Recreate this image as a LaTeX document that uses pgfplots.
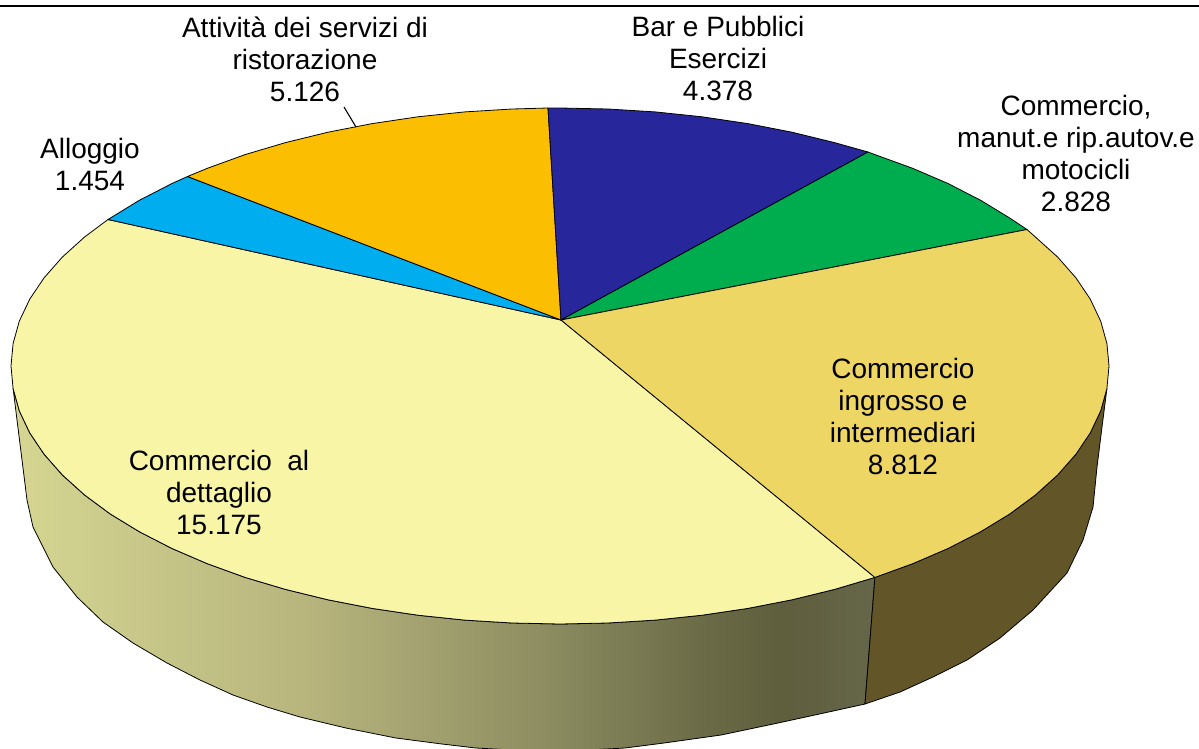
\documentclass[border=0pt]{standalone}
\usepackage{fontspec}
\setmainfont{Liberation Sans}
\usepackage{pgfplots}
\pgfplotsset{compat=1.18}

\definecolor{dettaglio}{HTML}{F8F6A6}
\definecolor{ingrosso}{HTML}{EED664}
\definecolor{motocicli}{HTML}{00AD4E}
\definecolor{bar}{HTML}{27279B}
\definecolor{ristoro}{HTML}{FCBE00}
\definecolor{alloggio}{HTML}{00AEEF}
\definecolor{wallright}{HTML}{625629}

% side of the big slice, light on the left and dark on the right
\pgfdeclarehorizontalshading{wall}{100bp}{
  rgb(0bp)=(0.84,0.84,0.57);
  rgb(25bp)=(0.84,0.84,0.57);
  rgb(30bp)=(0.80,0.80,0.55);
  rgb(42bp)=(0.72,0.71,0.49);
  rgb(56bp)=(0.55,0.55,0.38);
  rgb(65bp)=(0.42,0.42,0.28);
  rgb(69.5bp)=(0.37,0.37,0.24);
  rgb(75bp)=(0.40,0.40,0.29);
  rgb(100bp)=(0.40,0.40,0.29)}

\begin{document}
\begin{tikzpicture}
% the wall runs past the bottom edge, keep the page at the axis size
\useasboundingbox (0,0) rectangle (1199pt,748pt);
\begin{axis}[
    at={(0,0)}, anchor=south west,
    width=1199pt, height=748pt, scale only axis,
    xmin=0, xmax=1199, ymin=0, ymax=748,
    y dir=reverse,
    hide axis,
    clip mode=individual,
    every axis plot/.append style={line width=0.8pt, line join=round, mark=none},
    nodes={font=\fontsize{28}{32}\selectfont, align=center, text=black},
]
% top rule
\addplot[black, line width=2pt] coordinates {(0,5.5) (1199,5.5)};

% side walls
\addplot[draw=black, shading=wall] coordinates {
    (13.1,388.5) (27,500) (33,527) (53,567) (77,597) (103,622) (133,643)
    (167,663) (200,680) (233,695) (267,707) (300,717) (346,728) (396,738)
    (442,744) (476,748) (550,752) (625,748) (664,743) (721,735) (778,723)
    (824,713) (865,704)
    (874.9,577.4) (834.5,589.4) (792,599.8) (747.8,608.4) (702.1,615.2)
    (655.3,620.1) (607.9,623) (560,624) (512.1,623) (464.7,620.1)
    (417.9,615.2) (372.2,608.4) (328,599.8) (285.5,589.4) (245.1,577.4)
    (207.1,563.6) (171.8,548.4) (139.5,531.8) (110.3,514) (84.6,495)
    (62.4,475) (44.1,454.2) (29.7,432.8) (19.3,410.8)
} --cycle;
\addplot[draw=black, fill=wallright] coordinates {
    (874.9,577.4) (912.9,563.6) (948.2,548.4) (980.5,531.8) (1009.7,514)
    (1035.4,495) (1057.6,475) (1075.9,454.2) (1090.3,432.8) (1100.7,410.8)
    (1106.9,388.5)
    (1102,427) (1097,467) (1093,507) (1083,540) (1067,573) (1033,610)
    (1000,638) (967,660) (933,677) (900,692) (865,704)
} --cycle;

% top face, one polygon for each slice
\addplot[draw=black, fill=dettaglio] coordinates {
    (561,320) (874.9,577.4) (834.5,589.4) (792,599.8) (747.8,608.4)
    (702.1,615.2) (655.3,620.1) (607.9,623) (560,624) (512.1,623)
    (464.7,620.1) (417.9,615.2) (372.2,608.4) (328,599.8) (285.5,589.4)
    (245.1,577.4) (207.1,563.6) (171.8,548.4) (139.5,531.8) (110.3,514)
    (84.6,495) (62.4,475) (44.1,454.2) (29.7,432.8) (19.3,410.8) (13.1,388.5)
    (11,366) (13.1,343.5) (19.3,321.2) (29.7,299.2) (44.1,277.8) (62.4,257)
    (84.6,237) (108,219.5)
} --cycle;
\addplot[draw=black, fill=alloggio] coordinates {
    (561,320) (108,219.5) (139.5,200.2) (171.8,183.6) (187.5,176.5)
} --cycle;
\addplot[draw=black, fill=ristoro] coordinates {
    (561,320) (187.5,176.5) (207.1,168.4) (245.1,154.6) (285.5,142.6)
    (328,132.2) (372.2,123.6) (417.9,116.8) (464.7,111.9) (512.1,109) (548,108)
} --cycle;
\addplot[draw=black, fill=bar] coordinates {
    (561,320) (548,108) (560,108) (607.9,109) (655.3,111.9) (702.1,116.8)
    (747.8,123.6) (792,132.2) (834.5,142.6) (868,152)
} --cycle;
\addplot[draw=black, fill=motocicli] coordinates {
    (561,320) (868,152) (874.9,154.6) (912.9,168.4) (948.2,183.6) (980.5,200.2)
    (1009.7,218) (1027,229.5)
} --cycle;
\addplot[draw=black, fill=ingrosso] coordinates {
    (561,320) (1027,229.5) (1035.4,237) (1057.6,257) (1075.9,277.8)
    (1090.3,299.2) (1100.7,321.2) (1106.9,343.5) (1109,366) (1106.9,388.5)
    (1100.7,410.8) (1090.3,432.8) (1075.9,454.2) (1057.6,475) (1035.4,495)
    (1009.7,514) (980.5,531.8) (948.2,548.4) (912.9,563.6) (874.9,577.4)
} --cycle;

% leader line of the ristorazione label
\addplot[black, line width=1.1pt] coordinates {(344,107) (356,127)};

\node at (axis cs:305,59) {Attività dei servizi di\\ristorazione\\5.126};
\node at (axis cs:718,58) {Bar e Pubblici\\Esercizi\\4.378};
\node at (axis cs:1076,153) {Commercio,\\manut.e rip.autov.e\\motocicli\\2.828};
\node at (axis cs:90,164) {Alloggio\\1.454};
\node at (axis cs:903,416) {Commercio\\ingrosso e\\intermediari\\8.812};
\node at (axis cs:219,492) {Commercio\ \ al\\dettaglio\\15.175};
\end{axis}
\end{tikzpicture}
\end{document}
